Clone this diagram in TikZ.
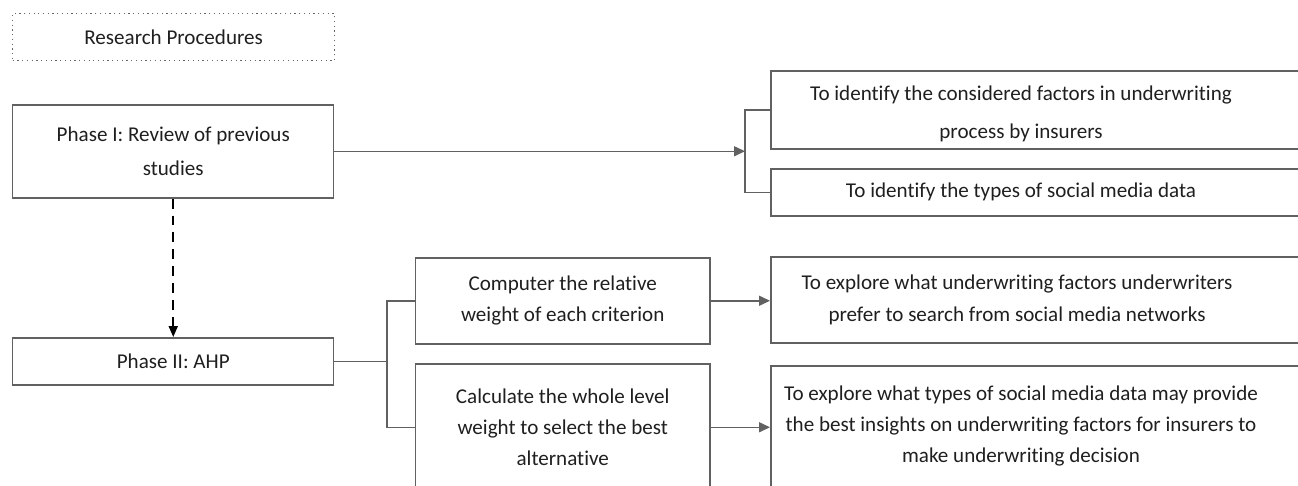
\documentclass[tikz,border=0pt]{standalone}
\usepackage{fontspec}
\setmainfont{Carlito}[Ligatures=NoCommon]
\usetikzlibrary{arrows.meta}

\newcommand{\pxu}{0.02cm}

\tikzset{
    box/.style={draw=black!62, line width=0.85pt, rectangle, anchor=north west,
        inner sep=0pt, align=center, text=black!88},
    titlebox/.style={box, draw=black!60, line width=0.7pt, dotted},
    txt/.style={align=center, text=black!88, inner sep=0pt},
    link/.style={draw=black!62, line width=0.85pt},
    tip/.style={-{Triangle[length=2.2mm, width=2mm]}},
}

\begin{document}
\begin{tikzpicture}[x=\pxu, y=-\pxu, font=\fontsize{12}{17.8}\selectfont]
    \path[use as bounding box, clip] (0,0) rectangle (1298,485);

    % left column
    \node[titlebox, minimum width=322*\pxu, minimum height=47*\pxu] (title) at (12,13) {Research Procedures};
    \node[box, minimum width=321*\pxu, minimum height=93*\pxu] (phase1) at (12,104) {Phase I: Review of previous\\[2pt]studies};
    \node[box, minimum width=321*\pxu, minimum height=47*\pxu] (phase2) at (12,337) {Phase II: AHP};

    % middle column
    \node[box, minimum width=294*\pxu, minimum height=86*\pxu] (crit) at (415,257) {Computer the relative\\weight of each criterion};
    \node[box, minimum width=294*\pxu, minimum height=127*\pxu] (whole) at (415,363) {Calculate the whole level\\weight to select the best\\alternative};

    % right column (cut at the page edge)
    \node[box, minimum width=560*\pxu, minimum height=78*\pxu] (ident1) at (770,70) {};
    \node[box, minimum width=560*\pxu, minimum height=47*\pxu] (ident2) at (770,168) {};
    \node[box, minimum width=560*\pxu, minimum height=86*\pxu] (explore1) at (770,256) {};
    \node[box, minimum width=560*\pxu, minimum height=125*\pxu] (explore2) at (770,365) {};

    \node[txt] (ident1txt) at (1021,114) {To identify the considered factors in underwriting\\[4pt]process by insurers};
    \node[txt] (ident2txt) at (1021,192) {To identify the types of social media data};
    \node[txt] (explore1txt) at (1017,300) {To explore what underwriting factors underwriters\\prefer to search from social media networks};
    \node[txt] (explore2txt) at (1021,426) {To explore what types of social media data may provide\\the best insights on underwriting factors for insurers to\\make underwriting decision};

    % connectors
    \coordinate (br1) at (745,0);
    \coordinate (br2) at (387,0);

    \draw[link, tip] (phase1.east) -- (phase1.east -| br1);
    \draw[link] (ident1.west) -| (br1 |- phase1.east) |- (ident2.west);

    \draw[black, line width=1.1pt, dash pattern=on 2mm off 1.4mm,
        -{Triangle[length=2.2mm, width=1.8mm]}] (phase1.south) -- (phase2.north);

    \draw[link] (phase2.east) -- (phase2.east -| br2);
    \draw[link] (crit.west) -| (br2 |- phase2.east) |- (whole.west);

    \draw[link, tip] (crit.east) -- (crit.east -| explore1.west);
    \draw[link, tip] (whole.east) -- (whole.east -| explore2.west);
\end{tikzpicture}
\end{document}
